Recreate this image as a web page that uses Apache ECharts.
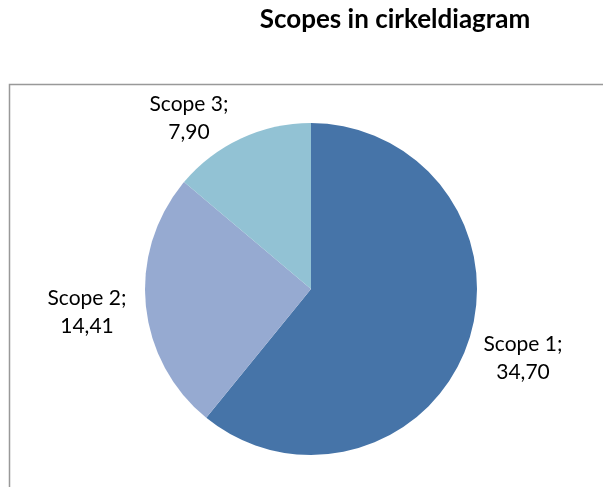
<!DOCTYPE html>
<html>
<head>
<meta charset="utf-8">
<script src="https://cdn.jsdelivr.net/npm/echarts@6/dist/echarts.min.js"></script>
<style>
html,body{margin:0;padding:0;background:#fff;}
#chart{width:603px;height:487px;}
</style>
</head>
<body>
<div id="chart"></div>
<script>
const categories = ['Scope 1', 'Scope 2', 'Scope 3'];
const values = [34.70, 14.41, 7.90];
const colors = ['#4674A8', '#96AAD1', '#92C2D4'];
const labelPos = [[523, 358], [87, 312], [189, 118]];

const chart = echarts.init(document.getElementById('chart'), null, {renderer: 'canvas'});
chart.setOption({
  animation: false,
  backgroundColor: '#ffffff',
  title: {
    text: 'Scopes in cirkeldiagram',
    left: 390,
    top: 2,
    textAlign: 'center',
    textStyle: {fontFamily: 'Lato', fontWeight: 'bold', fontSize: 26, color: '#000'}
  },
  graphic: [{
    type: 'rect',
    shape: {x: 9.5, y: 84.5, width: 700, height: 500},
    style: {fill: 'none', stroke: '#999999', lineWidth: 1.5},
    z: -1
  }],
  series: [{
    type: 'pie',
    center: [311, 289],
    radius: 166,
    startAngle: 90,
    clockwise: true,
    itemStyle: {borderWidth: 0},
    label: {
      show: true,
      position: 'outside',
      overflow: 'none',
      edgeDistance: 0,
      fontFamily: 'Lato',
      fontSize: 21,
      lineHeight: 28,
      color: '#000',
      align: 'center',
      formatter: p => p.name + ';\n' + p.value.toFixed(2).replace('.', ',')
    },
    labelLine: {show: false},
    labelLayout: params => ({
      x: labelPos[params.dataIndex][0],
      y: labelPos[params.dataIndex][1],
      align: 'center',
      verticalAlign: 'middle'
    }),
    data: categories.map((c, i) => ({name: c, value: values[i], itemStyle: {color: colors[i]}}))
  }]
});
</script>
</body>
</html>
